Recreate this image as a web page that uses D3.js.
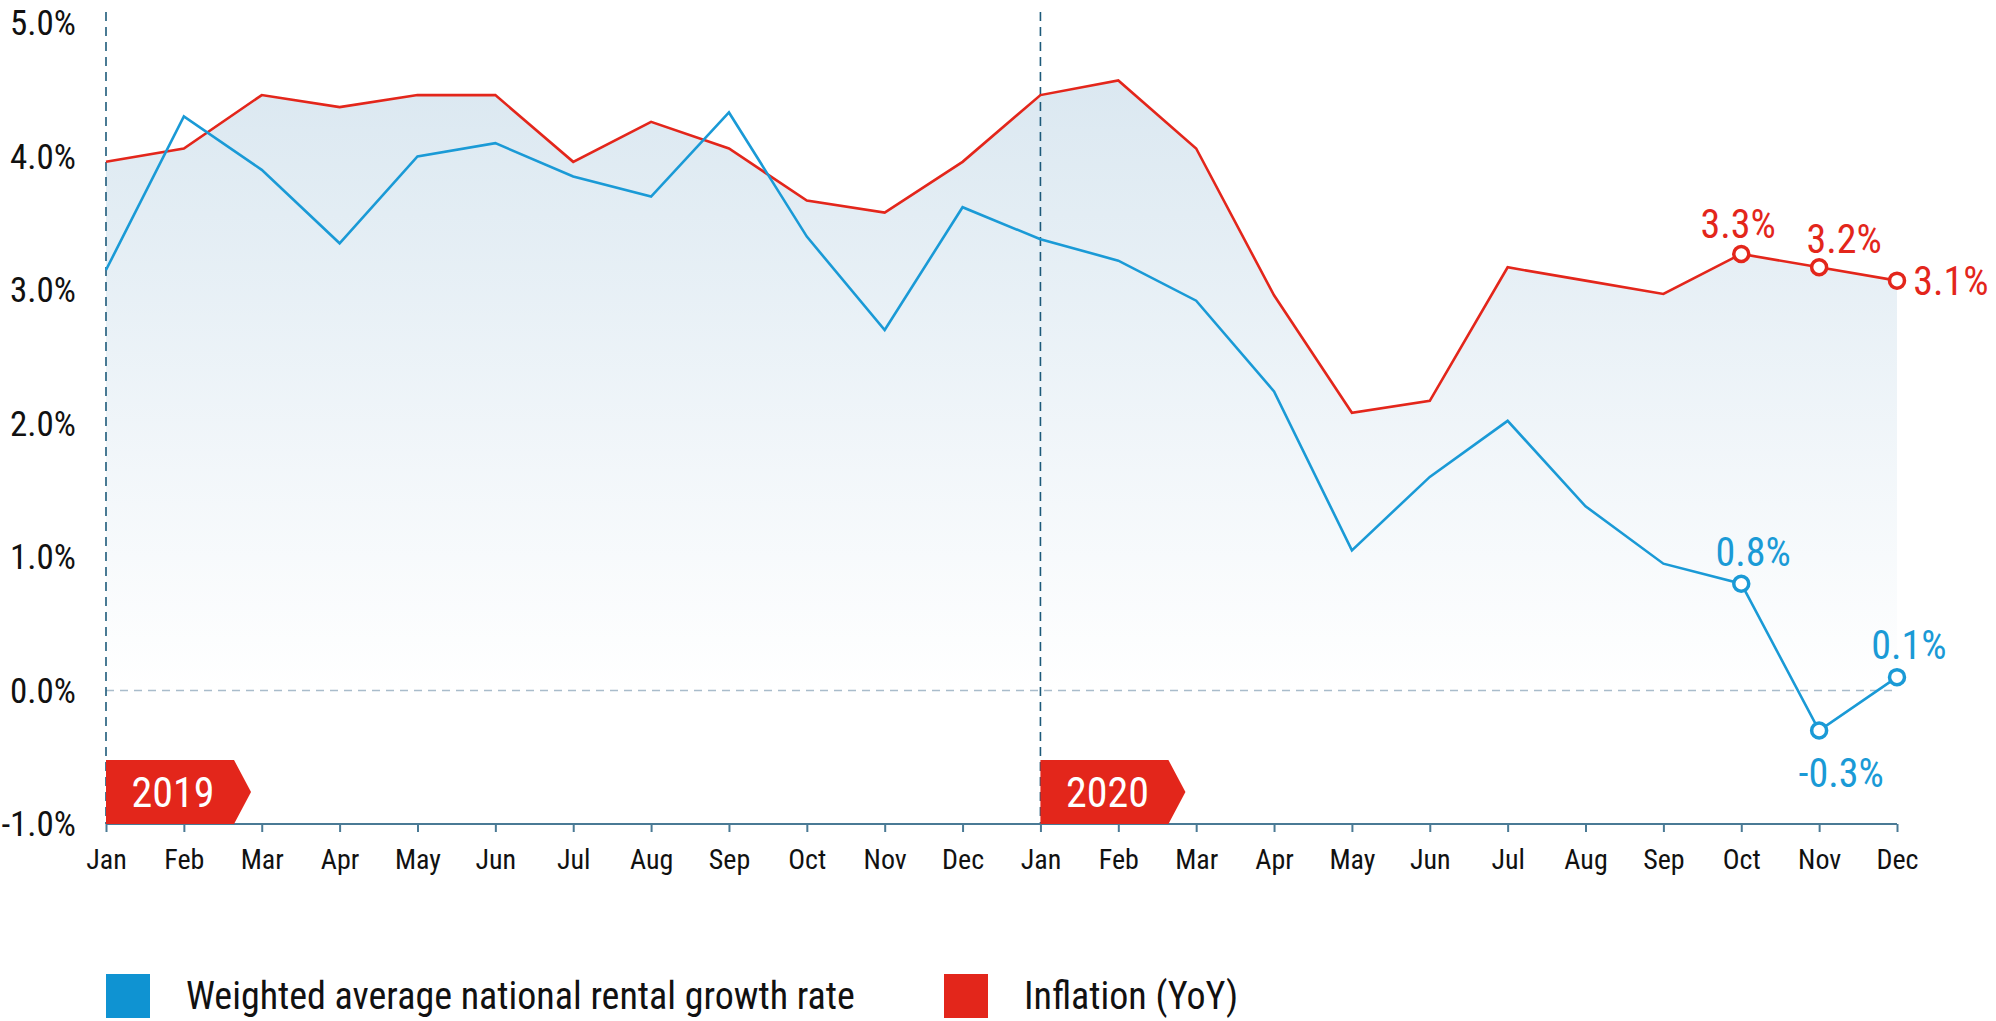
<!DOCTYPE html>
<html><head><meta charset="utf-8">
<script src="https://cdn.jsdelivr.net/npm/d3@7"></script>
<style>body{margin:0;background:#fff}svg{display:block}</style>
</head><body><div id="chart"></div>
<script>
const months = ["Jan","Feb","Mar","Apr","May","Jun","Jul","Aug","Sep","Oct","Nov","Dec",
                "Jan","Feb","Mar","Apr","May","Jun","Jul","Aug","Sep","Oct","Nov","Dec"];
const rental = [3.15,4.3,3.9,3.35,4.0,4.1,3.85,3.7,4.33,3.4,2.7,3.62,
                3.38,3.22,2.92,2.24,1.05,1.6,2.02,1.38,0.95,0.8,-0.3,0.1];
const inflation = [3.96,4.06,4.46,4.37,4.46,4.46,3.96,4.26,4.06,3.67,3.58,3.96,
                   4.46,4.57,4.06,2.96,2.08,2.17,3.17,3.07,2.97,3.27,3.17,3.07];
const yTicks = [-1,0,1,2,3,4,5];
const years = [{label:"2019", i:0},{label:"2020", i:12}];
const rentalLabels = [{i:21,t:"0.8%",dx:12,dy:-32},{i:22,t:"-0.3%",dx:22,dy:42},{i:23,t:"0.1%",dx:12,dy:-32}];
const inflLabels = [{i:21,t:"3.3%",dx:-3,dy:-30},{i:22,t:"3.2%",dx:25,dy:-28},{i:23,t:"3.1%",dx:54,dy:0}];

const W=1996,H=1021, L=106, R=1897, T=23, B=824;
const font="'Liberation Sans Narrow','Roboto Condensed','Liberation Sans',sans-serif";
const BLUE="#1a9ad6", RED="#e3261b";
const svg=d3.select("#chart").append("svg").attr("width",W).attr("height",H);
const x=d3.scaleLinear().domain([0,23]).range([L,R]);
const y=d3.scaleLinear().domain([-1,5]).range([B,T]);

const defs=svg.append("defs");
const gr=defs.append("linearGradient").attr("id","fade").attr("x1",0).attr("y1",0).attr("x2",0).attr("y2",1);
gr.append("stop").attr("offset","0%").attr("stop-color","#dbe8f1");
gr.append("stop").attr("offset","100%").attr("stop-color","#ffffff");

svg.append("path").datum(inflation)
  .attr("fill","url(#fade)")
  .attr("d",d3.area().x((d,i)=>x(i)).y0(y(0)).y1(d=>y(d)));

// zero line
svg.append("line").attr("x1",x(0)).attr("x2",x(23)).attr("y1",y(0)).attr("y2",y(0))
  .attr("stroke","#a9bccb").attr("stroke-dasharray","8,6").attr("stroke-width",1.3);

// year lines
years.forEach(yr=>{
  svg.append("line").attr("x1",x(yr.i)).attr("x2",x(yr.i)).attr("y1",12).attr("y2",B)
    .attr("stroke","#1d5a7a").attr("stroke-dasharray","9,6").attr("stroke-width",1.6);
});

// axes
svg.append("g").attr("transform",`translate(0,${B})`)
  .call(d3.axisBottom(x).tickValues(d3.range(24)).tickFormat(i=>months[i]).tickSize(8).tickSizeOuter(0))
  .call(g=>g.selectAll("path,line").attr("stroke","#4a7a95").attr("stroke-width",2))
  .call(g=>g.select(".domain").attr("d",`M${L},0H${R}`))
  .call(g=>g.selectAll("text").attr("fill","#111").attr("font-size",28).attr("font-family",font).attr("dy","1.2em"));

svg.append("g").selectAll("text").data(yTicks).join("text")
  .attr("x",76).attr("y",d=>y(d)).attr("dy","0.35em").attr("text-anchor","end")
  .attr("font-size",35).attr("font-family",font).attr("fill","#111")
  .text(d=>d.toFixed(1)+"%");

// year badges
years.forEach(yr=>{
  const x0=x(yr.i), w=128, h=64, y0=B-h;
  svg.append("path").attr("fill",RED)
    .attr("d",`M${x0},${y0}H${x0+w}L${x0+w+17},${y0+h/2}L${x0+w},${B}H${x0}Z`);
  svg.append("text").attr("x",x0+w/2+3).attr("y",y0+h/2).attr("dy","0.36em")
    .attr("text-anchor","middle").attr("fill","#fff").attr("font-size",42).attr("font-family",font)
    .text(yr.label);
});

// lines
const line=arr=>d3.line().x((d,i)=>x(i)).y(d=>y(d))(arr);
svg.append("path").attr("d",line(inflation)).attr("fill","none").attr("stroke",RED).attr("stroke-width",2.6);
svg.append("path").attr("d",line(rental)).attr("fill","none").attr("stroke",BLUE).attr("stroke-width",2.6);

function marks(arr,labs,col){
  svg.append("g").selectAll("circle").data(labs).join("circle")
    .attr("cx",d=>x(d.i)).attr("cy",d=>y(arr[d.i])).attr("r",7.5)
    .attr("fill","#fff").attr("stroke",col).attr("stroke-width",3.5);
  svg.append("g").selectAll("text").data(labs).join("text")
    .attr("x",d=>x(d.i)+d.dx).attr("y",d=>y(arr[d.i])+d.dy).attr("dy","0.35em")
    .attr("text-anchor","middle").attr("fill",col).attr("font-size",40).attr("font-family",font)
    .text(d=>d.t);
}
marks(inflation,inflLabels,RED);
marks(rental,rentalLabels,BLUE);

// legend
const legend=[{t:"Weighted average national rental growth rate",c:"#0f93d2",x:106},{t:"Inflation (YoY)",c:RED,x:944}];
legend.forEach(d=>{
  svg.append("rect").attr("x",d.x).attr("y",974).attr("width",44).attr("height",44).attr("fill",d.c);
  svg.append("text").attr("x",d.x+80).attr("y",996).attr("dy","0.35em").attr("font-size",38)
    .attr("font-family",font).attr("fill","#111").text(d.t);
});
</script></body></html>
